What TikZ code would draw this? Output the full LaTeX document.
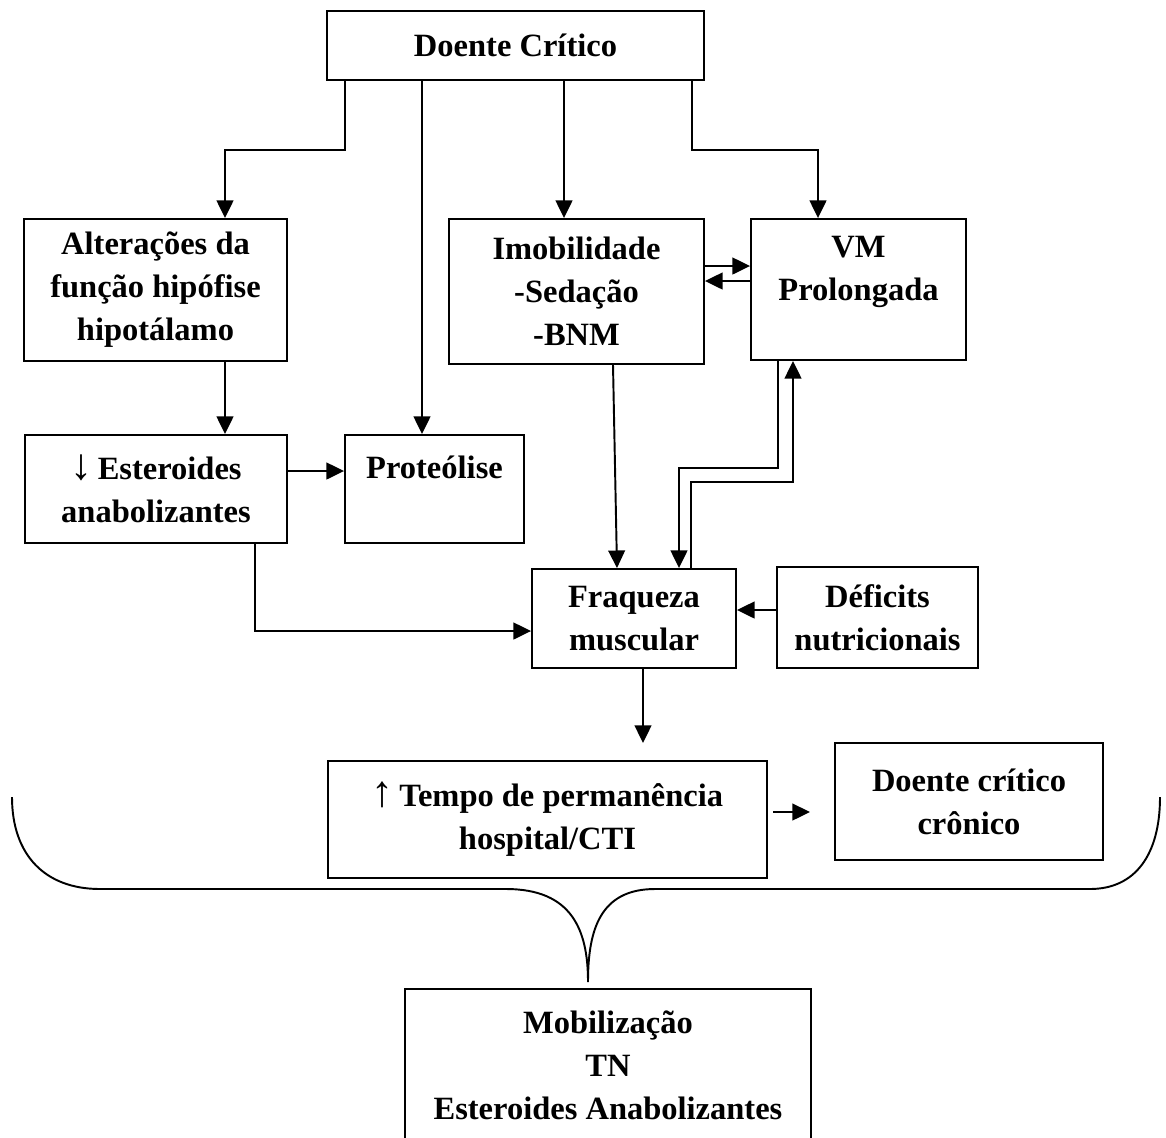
\documentclass[tikz,border=0pt]{standalone}
\usepackage{fontspec}
\setmainfont{Liberation Serif}
\usetikzlibrary{arrows.meta}
\newcommand{\bigarr}[1]{{\fontsize{25}{24.5}\selectfont #1}}
\tikzset{
  bx/.style={draw, line width=1.1pt, inner sep=0pt, align=center,
    font=\bfseries\fontsize{18.5}{24.5}\selectfont},
  arr/.style={line width=1.1pt, -{Triangle[length=10pt,width=9.5pt]}},
  ln/.style={line width=1.1pt},
}
\begin{document}
\begin{tikzpicture}[x=0.02cm, y=-0.02cm]
\useasboundingbox (0,0) rectangle (1166,1137);
\node[bx, minimum width=7.54cm, minimum height=1.38cm] (top) at (515.5,45.5) {Doente Crítico};
\node[bx, minimum width=5.26cm, minimum height=2.84cm] (alt) at (155.5,290) {Alterações da\\função hipófise\\hipotálamo};
\node[bx, minimum width=5.10cm, minimum height=2.90cm] (imob) at (576.5,291.5) {Imobilidade\\-Sedação\\-BNM};
\node[bx, minimum width=4.30cm, minimum height=2.82cm] (vm) at (858.5,289.5) {VM\\Prolongada\\\mbox{}};
\node[bx, minimum width=5.24cm, minimum height=2.16cm] (est) at (156,489) {\bigarr{↓}\,Esteroides\\anabolizantes};
\node[bx, minimum width=3.58cm, minimum height=2.16cm] (prot) at (434.5,489) {Proteólise\\\mbox{}};
\node[bx, minimum width=4.08cm, minimum height=1.98cm] (fraq) at (634,618.5) {Fraqueza\\muscular};
\node[bx, minimum width=4.02cm, minimum height=2.02cm] (def) at (877.5,617.5) {Déficits\\nutricionais};
\node[bx, minimum width=8.78cm, minimum height=2.34cm] (tempo) at (547.5,819.5) {\bigarr{↑}\,Tempo de permanência\\hospital/CTI};
\node[bx, minimum width=5.36cm, minimum height=2.34cm] (cron) at (969,801.5) {Doente crítico\\crônico};
\node[bx, draw=none, minimum width=8.08cm, minimum height=3.0cm] (mob) at (608,1065) {Mobilização\\TN\\Esteroides Anabolizantes};
\draw[ln] (mob.south west) -- (mob.north west) -- (mob.north east) -- (mob.south east);

\coordinate (c1) at (643,743);
\coordinate (c2) at (810,812);

\draw[arr] (top.south -| 345,0) |- (225,150) -- (alt.north -| 225,0);
\draw[arr] (top.south -| 422,0) -- (prot.north -| 422,0);
\draw[arr] (top.south -| 564,0) -- (imob.north -| 564,0);
\draw[arr] (top.south -| 692,0) |- (818,150) -- (vm.north -| 818,0);
\draw[arr] (alt.south -| 225,0) -- (est.north -| 225,0);
\draw[arr] (est.east |- 0,471) -- (prot.west |- 0,471);
\draw[arr] (est.south -| 255,0) |- (fraq.west |- 0,631);
\draw[arr] (imob.south -| 613,0) -- (fraq.north -| 617,0);
\draw[arr] (vm.south -| 778,0) |- (679,468) -- (fraq.north -| 679,0);
\draw[arr] (fraq.north -| 691,0) |- (793,482) -- (vm.south -| 793,0);
\draw[arr] (imob.east |- 0,266) -- (vm.west |- 0,266);
\draw[arr] (vm.west |- 0,281) -- (imob.east |- 0,281);
\draw[arr] (def.west |- 0,610) -- (fraq.east |- 0,610);
\draw[arr] (fraq.south -| 643,0) -- (c1);
\draw[arr] ([xshift=3pt]tempo.east |- c2) -- (c2);

% brace
\draw[line width=1.1pt] (12,797) .. controls (12,855) and (45,889) .. (100,889)
  -- (506,889) .. controls (572,889) and (588,930) .. (588,982)
  .. controls (588,930) and (600,889) .. (655,889)
  -- (1090,889) .. controls (1135,889) and (1160,855) .. (1160,797);
\end{tikzpicture}
\end{document}
